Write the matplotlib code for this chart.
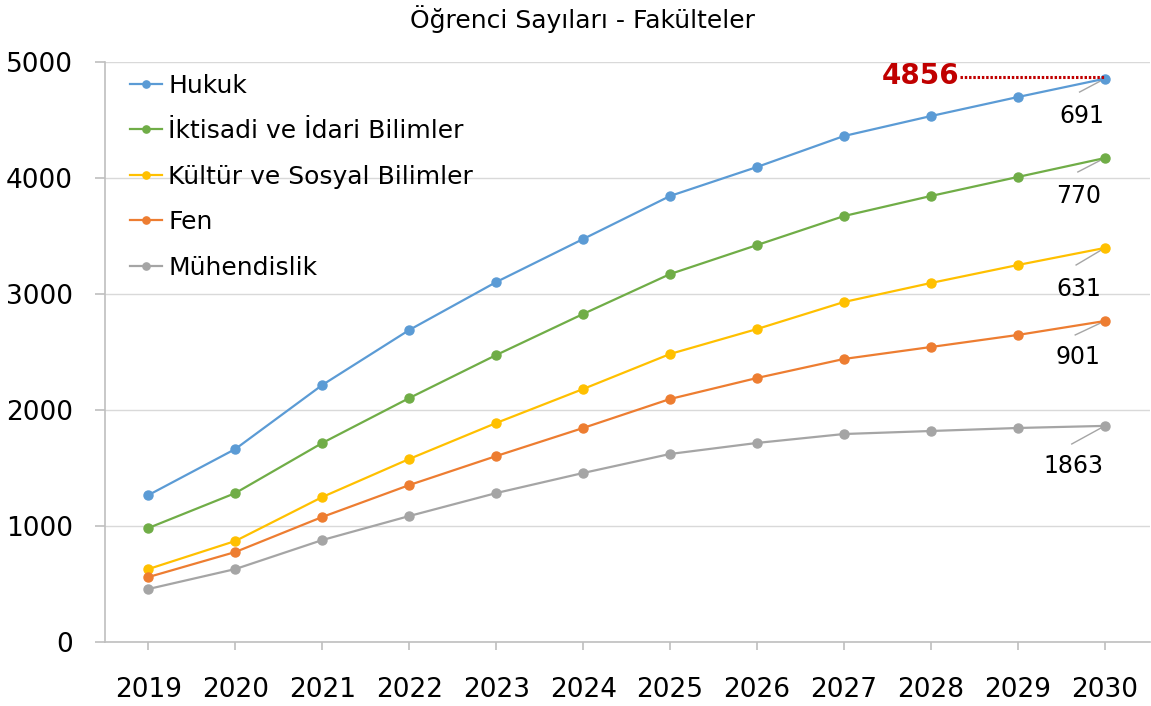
import matplotlib
matplotlib.use("Agg")
import matplotlib.pyplot as plt

years = [2019, 2020, 2021, 2022, 2023, 2024, 2025, 2026, 2027, 2028, 2029, 2030]
hukuk = [1267, 1664, 2216, 2690, 3103, 3474, 3845, 4095, 4362, 4534, 4698, 4856]
iktisadi = [983, 1284, 1716, 2103, 2474, 2828, 3172, 3422, 3672, 3845, 4009, 4172]
kultur = [629, 871, 1250, 1578, 1888, 2181, 2483, 2698, 2931, 3095, 3250, 3397]
fen = [560, 776, 1078, 1353, 1603, 1845, 2095, 2276, 2440, 2543, 2647, 2767]
muhendislik = [457, 629, 879, 1086, 1284, 1457, 1621, 1716, 1793, 1819, 1845, 1863]

series_names = ["Hukuk", "İktisadi ve İdari Bilimler", "Kültür ve Sosyal Bilimler", "Fen", "Mühendislik"]
series_values = [hukuk, iktisadi, kultur, fen, muhendislik]
colors = ["#5B9BD5", "#70AD47", "#FFC000", "#ED7D31", "#A5A5A5"]
end_labels = ["691", "770", "631", "901", "1863"]
highlight_label = "4856"

title = "Öğrenci Sayıları - Fakülteler"

plt.rcParams['font.family'] = ['DejaVu Sans']

fig = plt.figure(figsize=(11.51, 7.06), dpi=100)
ax = fig.add_axes([105/1151, 1 - 642/706, (1150-105)/1151, (642-62)/706])

for name, vals, c in zip(series_names, series_values, colors):
    ax.plot(years, vals, color=c, lw=1.6, marker='o', ms=6.5, label=name, zorder=3)

ax.set_xlim(2018.5, 2030.52)
ax.set_ylim(0, 5000)
ax.set_yticks([0, 1000, 2000, 3000, 4000, 5000])
ax.set_xticks(years)
ax.set_xticklabels([str(y) for y in years])
ax.grid(axis='y', color='#D9D9D9', lw=1.0, zorder=0)
ax.set_axisbelow(True)
for s in ['top', 'right']:
    ax.spines[s].set_visible(False)
for s in ['left', 'bottom']:
    ax.spines[s].set_color('#BFBFBF')
    ax.spines[s].set_linewidth(1.2)
ax.tick_params(axis='y', length=7, color='#BFBFBF', width=1.2, labelsize=19, pad=16)
ax.tick_params(axis='x', length=6, color='#BFBFBF', width=1.2, labelsize=19, pad=19)

fig.text(0.5065, 0.973, title, ha='center', va='center', fontsize=18)

leg = ax.legend(loc='upper left', bbox_to_anchor=(0.014, 0.997), frameon=False, fontsize=18,
                handlelength=1.3, handletextpad=0.25, labelspacing=0.86, borderaxespad=0.0,
                markerscale=0.8)

# end annotations
label_pos = [(2029.74, 4534), (2029.70, 3845), (2029.70, 3043), (2029.69, 2457), (2029.64, 1517)]
leader_end = [(2029.71, 4741), (2029.69, 4052), (2029.67, 3250), (2029.66, 2647), (2029.62, 1707)]
for vals, lab, lp, le in zip(series_values, end_labels, label_pos, leader_end):
    ax.plot([years[-1], le[0]], [vals[-1], le[1]], color='#A5A5A5', lw=1.0, zorder=2)
    ax.text(lp[0], lp[1], lab, ha='center', va='center', fontsize=17)

# highlight 4856
ax.plot([2028.33, years[-1]], [4875, 4875], color='#C00000', lw=2.2, ls=(0, (0.8, 0.6)), zorder=4)
ax.text(2028.33, 4875, highlight_label, ha='right', va='center', fontsize=20,
        fontweight='heavy', color='#C00000')

fig.savefig("out.png", dpi=100)
